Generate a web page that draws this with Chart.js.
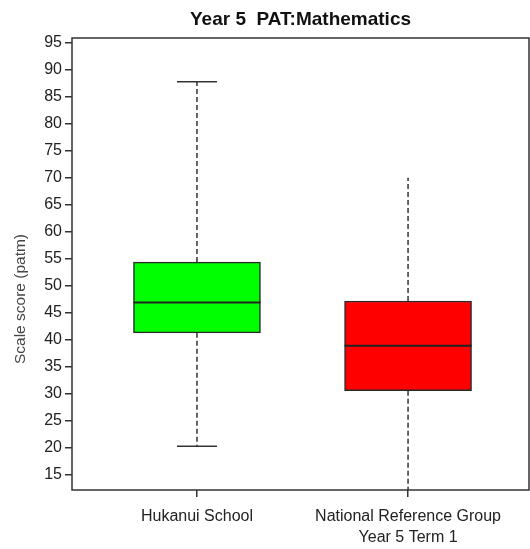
<!DOCTYPE html>
<html>
<head>
<meta charset="utf-8">
<script src="https://cdn.jsdelivr.net/npm/chart.js@4.4.0/dist/chart.umd.min.js"></script>
<style>
html, body { margin: 0; padding: 0; background: #fff; }
#wrap { width: 530px; height: 549px; }
</style>
</head>
<body>
<div id="wrap"><canvas id="boxChart"></canvas></div>
<script>
/* data */
const groups = [['Hukanui School'], ['National Reference Group', 'Year 5 Term 1']];
const positions = [1, 2];
const whiskerLow = [20.3, 10];
const quartile1 = [41.3, 30.6];
const medians = [46.9, 38.9];
const quartile3 = [54.4, 47.2];
const whiskerHigh = [87.8, 70.0];
const hasCaps = [true, false];
const boxColours = ['#00ff00', '#ff0000'];

const fontFamily = '"Liberation Sans", Arial, Helvetica, sans-serif';

/* whiskers, medians, frame and y title */
const boxExtras = {
    id: 'boxExtras',
    afterDatasetsDraw(chart) {
        const { ctx, chartArea, scales: { x, y } } = chart;
        const bars = chart.getDatasetMeta(0).data;
        ctx.save();
        ctx.beginPath();
        ctx.rect(chartArea.left, chartArea.top, chartArea.width, chartArea.height);
        ctx.clip();
        ctx.strokeStyle = '#333';
        positions.forEach((p, i) => {
            const cx = x.getPixelForValue(p);
            const half = bars[i].width / 2;
            ctx.lineWidth = 1.5;
            ctx.setLineDash([5, 3]);
            ctx.beginPath();
            ctx.moveTo(cx, y.getPixelForValue(quartile3[i]));
            ctx.lineTo(cx, y.getPixelForValue(whiskerHigh[i]));
            ctx.moveTo(cx, y.getPixelForValue(quartile1[i]));
            ctx.lineTo(cx, y.getPixelForValue(whiskerLow[i]));
            ctx.stroke();
            ctx.setLineDash([]);
            if (hasCaps[i]) {
                ctx.beginPath();
                ctx.moveTo(cx - 20, y.getPixelForValue(whiskerHigh[i]));
                ctx.lineTo(cx + 20, y.getPixelForValue(whiskerHigh[i]));
                ctx.moveTo(cx - 20, y.getPixelForValue(whiskerLow[i]));
                ctx.lineTo(cx + 20, y.getPixelForValue(whiskerLow[i]));
                ctx.stroke();
            }
            ctx.lineWidth = 2;
            ctx.strokeStyle = '#222';
            ctx.beginPath();
            ctx.moveTo(cx - half, y.getPixelForValue(medians[i]));
            ctx.lineTo(cx + half, y.getPixelForValue(medians[i]));
            ctx.stroke();
            ctx.strokeStyle = '#333';
        });
        ctx.restore();

        ctx.save();
        ctx.strokeStyle = '#333';
        ctx.lineWidth = 1.5;
        ctx.strokeRect(chartArea.left, chartArea.top, chartArea.width, chartArea.height);
        ctx.translate(21, 299);
        ctx.rotate(-Math.PI / 2);
        ctx.font = '15.5px ' + fontFamily;
        ctx.fillStyle = '#444';
        ctx.textAlign = 'center';
        ctx.textBaseline = 'middle';
        ctx.fillText('Scale score (patm)', 0, 0);
        ctx.restore();
    }
};

const boxChart = document.getElementById('boxChart').getContext('2d');
const myChart = new Chart(boxChart, {
    type: 'bar',
    data: {
        datasets: [{
            data: positions.map((p, i) => ({ x: p, y: [quartile1[i], quartile3[i]] })),
            backgroundColor: boxColours,
            borderColor: '#2a2a2a',
            borderWidth: 1.5,
            borderSkipped: false,
            barThickness: 127
        }]
    },
    options: {
        responsive: true,
        maintainAspectRatio: false,
        animation: false,
        layout: { padding: { top: 0, right: 1, bottom: 0, left: 0 } },
        plugins: {
            legend: { display: false },
            tooltip: { enabled: false },
            title: {
                display: true,
                text: 'Year 5  PAT:Mathematics',
                fullSize: false,
                color: '#111',
                font: { family: fontFamily, size: 19, weight: 'bold', lineHeight: 1.2 },
                padding: { top: 8, bottom: 7.2 }
            }
        },
        scales: {
            x: {
                type: 'linear',
                min: 0.408,
                max: 2.573,
                offset: false,
                afterBuildTicks: s => { s.ticks = positions.map(v => ({ value: v })); },
                afterFit: s => { s.height = 59; },
                ticks: {
                    callback: (v, i) => groups[i],
                    color: '#222',
                    padding: 9,
                    maxRotation: 0,
                    autoSkip: false,
                    font: { family: fontFamily, size: 16, lineHeight: 1.3 }
                },
                grid: { offset: false, drawOnChartArea: false, color: '#333', lineWidth: 1.5, tickLength: 7 },
                border: { display: false }
            },
            y: {
                min: 12.2,
                max: 95.9,
                afterFit: s => { s.width = 72; },
                ticks: {
                    stepSize: 5,
                    includeBounds: false,
                    color: '#222',
                    padding: 3,
                    font: { family: fontFamily, size: 16 }
                },
                grid: { drawOnChartArea: false, color: '#333', lineWidth: 1.5, tickLength: 7 },
                border: { display: false }
            }
        }
    },
    plugins: [boxExtras]
})
</script>
</body>
</html>
